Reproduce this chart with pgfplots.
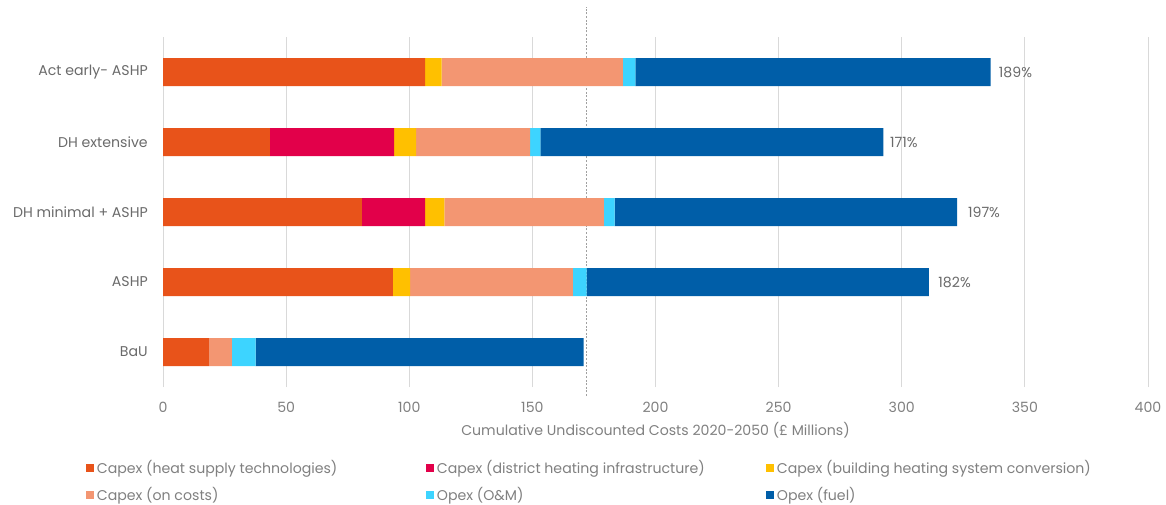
\documentclass[border=0pt]{standalone}
\usepackage{pgfplots}
\pgfplotsset{compat=1.18}
\usepackage{pgfplotstable}
\usepackage{fontspec}
\setmainfont{Poppins}
\definecolor{cHeat}{HTML}{E8531A}
\definecolor{cDH}{HTML}{E2004A}
\definecolor{cBld}{HTML}{FFC000}
\definecolor{cOn}{HTML}{F39672}
\definecolor{cOM}{HTML}{3DD4FF}
\definecolor{cFuel}{HTML}{005EA8}
\definecolor{gridgray}{HTML}{D9D9D9}
\definecolor{txtA}{HTML}{6A6A6A}
\definecolor{txtB}{HTML}{808080}
\definecolor{dashgray}{HTML}{A0A0A0}

\pgfplotstableread{
y heat dh bld on om fuel
0 18.8 0 0 9.2 9.6 133.2
1 93.3 0 7.1 66.0 5.6 139.0
2 80.8 25.6 7.9 64.7 4.4 139.1
3 43.4 50.5 8.9 46.3 4.1 139.3
4 106.4 0 6.7 73.7 5.0 144.3
}\costdata

\begin{document}
\begin{tikzpicture}[font=\fontsize{10.6pt}{12pt}\selectfont]
\path[use as bounding box] (0,0) rectangle (874.5pt,378pt);
\begin{axis}[
  at={(122.25pt,87.75pt)}, anchor=south west,
  scale only axis, width=738.75pt, height=262.5pt,
  xbar stacked, bar width=21pt,
  xmin=0, xmax=400, ymin=-0.5, ymax=4.5,
  xtick={0,50,...,400},
  ytick={0,1,2,3,4},
  yticklabels={BaU,ASHP,DH minimal + ASHP,DH extensive,Act early- ASHP},
  axis line style={draw=none},
  tick style={draw=none},
  xmajorgrids, grid style={color=gridgray, line width=0.75pt},
  clip=false,
  /pgf/number format/assume math mode=true,
  xticklabel style={text=txtB, anchor=center, yshift=-15pt, inner sep=0pt},
  yticklabel style={text=txtA, anchor=east, xshift=-11.25pt, inner sep=0pt},
  xlabel={Cumulative Undiscounted Costs 2020-2050 (£ Millions)},
  xlabel style={text=txtB, at={(axis description cs:0.5,0)}, anchor=center, yshift=-32.25pt},
  legend columns=3,
  legend cell align=left,
  legend style={at={(axis description cs:-0.0782,-0.2)}, anchor=north west, draw=none, inner sep=0pt,
    text=txtB, row sep=5pt},
  legend image code/.code={\fill[#1] (0pt,-3pt) rectangle (6pt,3pt);},
]
\addplot[fill=cHeat, draw=none] table[x=heat, y=y] {\costdata};
\addplot[fill=cDH, draw=none] table[x=dh, y=y] {\costdata};
\addplot[fill=cBld, draw=none] table[x=bld, y=y] {\costdata};
\addplot[fill=cOn, draw=none] table[x=on, y=y] {\costdata};
\addplot[fill=cOM, draw=none] table[x=om, y=y] {\costdata};
\addplot[fill=cFuel, draw=none] table[x=fuel, y=y] {\costdata};
\legend{\makebox[245pt][l]{Capex (heat supply technologies)},
        \makebox[245pt][l]{Capex (district heating infrastructure)},
        Capex (building heating system conversion),
        Capex (on costs), Opex (O\&M), Opex (fuel)}
\draw[color=dashgray, line width=1pt, dash pattern=on 1.5pt off 1.2pt] (axis cs:172,-0.629) -- (axis cs:172,4.929);
\node[anchor=west, text=txtA, inner sep=0pt, xshift=6pt] at (axis cs:336.1,4) {189\%};
\node[anchor=west, text=txtA, inner sep=0pt, xshift=5pt] at (axis cs:292.5,3) {171\%};
\node[anchor=west, text=txtA, inner sep=0pt, xshift=8pt] at (axis cs:322.5,2) {197\%};
\node[anchor=west, text=txtA, inner sep=0pt, xshift=7pt] at (axis cs:311.0,1) {182\%};
\end{axis}
\end{tikzpicture}
\end{document}
